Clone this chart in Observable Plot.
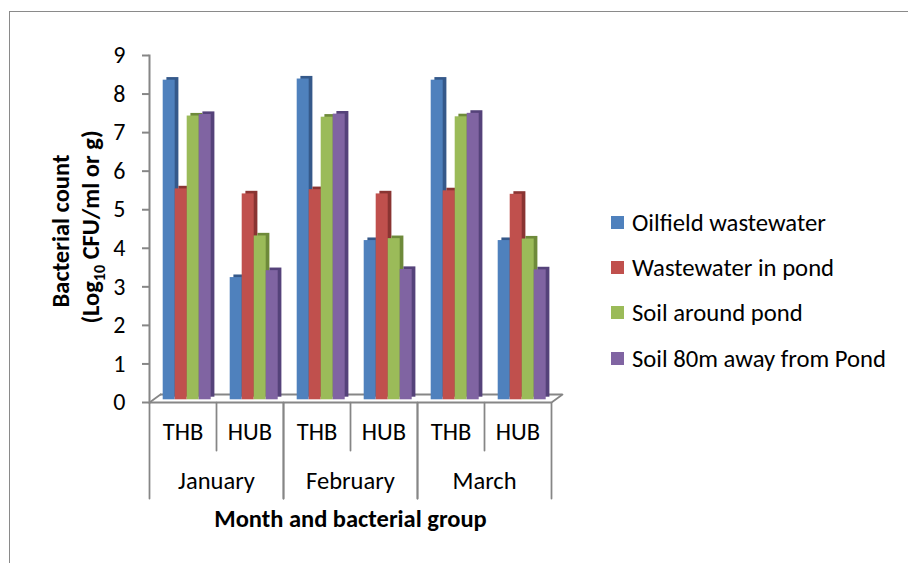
<!DOCTYPE html>
<html><head><meta charset="utf-8">
<script src="https://cdn.jsdelivr.net/npm/d3@7"></script>
<script src="https://cdn.jsdelivr.net/npm/@observablehq/plot@0.6"></script>
<style>
html,body{margin:0;padding:0;background:#fff;overflow:hidden;}
#wrap{position:relative;width:908px;height:563px;overflow:hidden;font-family:Carlito,"Open Sans",sans-serif;}
#border{position:absolute;left:9px;top:11px;width:1000px;height:700px;border-top:1.5px solid #8a8a8a;border-left:1.5px solid #8a8a8a;}
#chart{position:absolute;left:0;top:0;}
#legend{position:absolute;left:611px;top:199.5px;font-size:24.7px;color:#000;}
.row{display:flex;align-items:center;height:45.3px;white-space:nowrap;}
.sw{width:13px;height:13px;margin-right:8px;flex:none;}
</style></head><body><div id="wrap"><div id="border"></div><div id="chart"></div><div id="legend"></div></div>
<script>
const months = ["January", "February", "March"];
const groups = ["THB", "HUB"];
const series = ["Oilfield wastewater", "Wastewater in pond", "Soil around pond", "Soil 80m away from Pond"];
const oilfield   = [8.29, 3.17, 8.32, 4.13, 8.29, 4.13];
const pondWater  = [5.47, 5.34, 5.45, 5.34, 5.42, 5.33];
const soilAround = [7.36, 4.25, 7.33, 4.18, 7.34, 4.17];
const soil80m    = [7.40, 3.35, 7.41, 3.38, 7.43, 3.37];
const yTicks = [0, 1, 2, 3, 4, 5, 6, 7, 8, 9];
const colors = ["#4F81BD", "#C0504D", "#9BBB59", "#8064A2"];
const sideColors = ["#35598A", "#8A3432", "#6E8A3A", "#55427A"];
const yTitle1 = "Bacterial count";
const yTitle2 = "(Log10 CFU/ml or g)";
const xTitle = "Month and bacterial group";

const gray = "#868686";
const FS = 24.5;
const cats = [];
const catMonth = {}, catGroup = {};
months.forEach(m => groups.forEach(g => { const k = m + " " + g; cats.push(k); catMonth[k] = m; catGroup[k] = g; }));
const thbCats = cats.filter(c => catGroup[c] === "THB");
const hubCats = cats.filter(c => catGroup[c] === "HUB");
const valuesBySeries = [oilfield, pondWater, soilAround, soil80m];
const rows = [];
series.forEach((s, j) => cats.forEach((c, i) => rows.push({cat: c, series: s, value: valuesBySeries[j][i]})));

const lineShape = {draw(context, l) { context.moveTo(0, 0); context.lineTo(0, -l); }};
const vline = (data, anchor, length, rotate) => Plot.vector(data, {
  fx: d => d, y: () => 0, frameAnchor: anchor, rotate, length, anchor: "start",
  shape: lineShape, stroke: gray, strokeWidth: 1.75
});

const marks = [
  Plot.ruleY([0], {stroke: gray, strokeWidth: 2, dx: 11, dy: -8}),
  vline(["January THB"], "left", 13.6, 54),
  vline(["March HUB"], "right", 13.6, 54),
  Plot.ruleY([0], {stroke: gray, strokeWidth: 2.2}),
  ...series.map((s, j) => Plot.barY(rows.filter(r => r.series === s), {
    fx: "cat", x: "series", y: "value", fill: sideColors[j], dx: 7.4, dy: -5.3
  })),
  Plot.barY(rows, {fx: "cat", x: "series", y: "value", fill: "series", dx: 3.7, dy: -2.7}),
  Plot.frame({anchor: "left", facetAnchor: "left", stroke: gray, strokeWidth: 2}),
  Plot.axisY({ticks: yTicks, tickSize: 7, tickPadding: 17, stroke: gray, strokeWidth: 2, fill: "black", label: null, fontSize: 24}),
  vline(thbCats, "left", 96, 180),
  vline(hubCats, "right", 96, 180),
  vline(hubCats, "left", 48, 180),
  Plot.text(cats, {fx: d => d, text: d => catGroup[d], frameAnchor: "bottom", dy: 37, fontSize: FS, fill: "black"}),
  Plot.text(thbCats, {fx: d => d, text: d => catMonth[d], frameAnchor: "bottom-right", textAnchor: "middle", dy: 86, fontSize: FS, fill: "black"}),
  Plot.text(["February THB"], {fx: d => d, text: () => xTitle, frameAnchor: "bottom-right", textAnchor: "middle", dy: 124, fontSize: FS, fontWeight: "bold", fill: "black"}),
  Plot.text(["January THB"], {fx: d => d, text: () => yTitle1, frameAnchor: "left", textAnchor: "middle", rotate: -90, dx: -88.5, dy: 2, fontSize: FS, fontWeight: "bold", fill: "black"}),
  Plot.text(["January THB"], {fx: d => d, text: () => yTitle2, frameAnchor: "left", textAnchor: "middle", rotate: -90, dx: -58, dy: -2, fontSize: FS, fontWeight: "bold", fill: "black"})
];

const chart = Plot.plot({
  width: 908, height: 563,
  marginLeft: 149, marginRight: 357, marginTop: 55, marginBottom: 161,
  style: {fontFamily: "Carlito, 'Open Sans', sans-serif", fontSize: FS + "px", background: "transparent", color: "black"},
  fx: {domain: cats, padding: 0, axis: null},
  x: {domain: series, paddingInner: 0, paddingOuter: 0.71, axis: null},
  y: {domain: [0, 9], label: null},
  color: {domain: series, range: colors},
  marks
});
document.getElementById("chart").appendChild(chart);

// subscript for Log10
d3.select(chart).selectAll("text").each(function() {
  if (this.textContent === yTitle2) {
    const t = d3.select(this);
    t.text(null);
    t.append("tspan").text("(Log");
    t.append("tspan").attr("font-size", "16px").attr("dy", 6).text("10");
    t.append("tspan").attr("dy", -6).text(" CFU/ml or g)");
  }
});

// legend from the color scale
const cs = chart.scale("color");
const legend = d3.select("#legend");
cs.domain.forEach((s, i) => {
  const row = legend.append("div").attr("class", "row");
  row.append("div").attr("class", "sw").style("background", cs.range[i]);
  row.append("span").text(s);
});
</script>
</body></html>
